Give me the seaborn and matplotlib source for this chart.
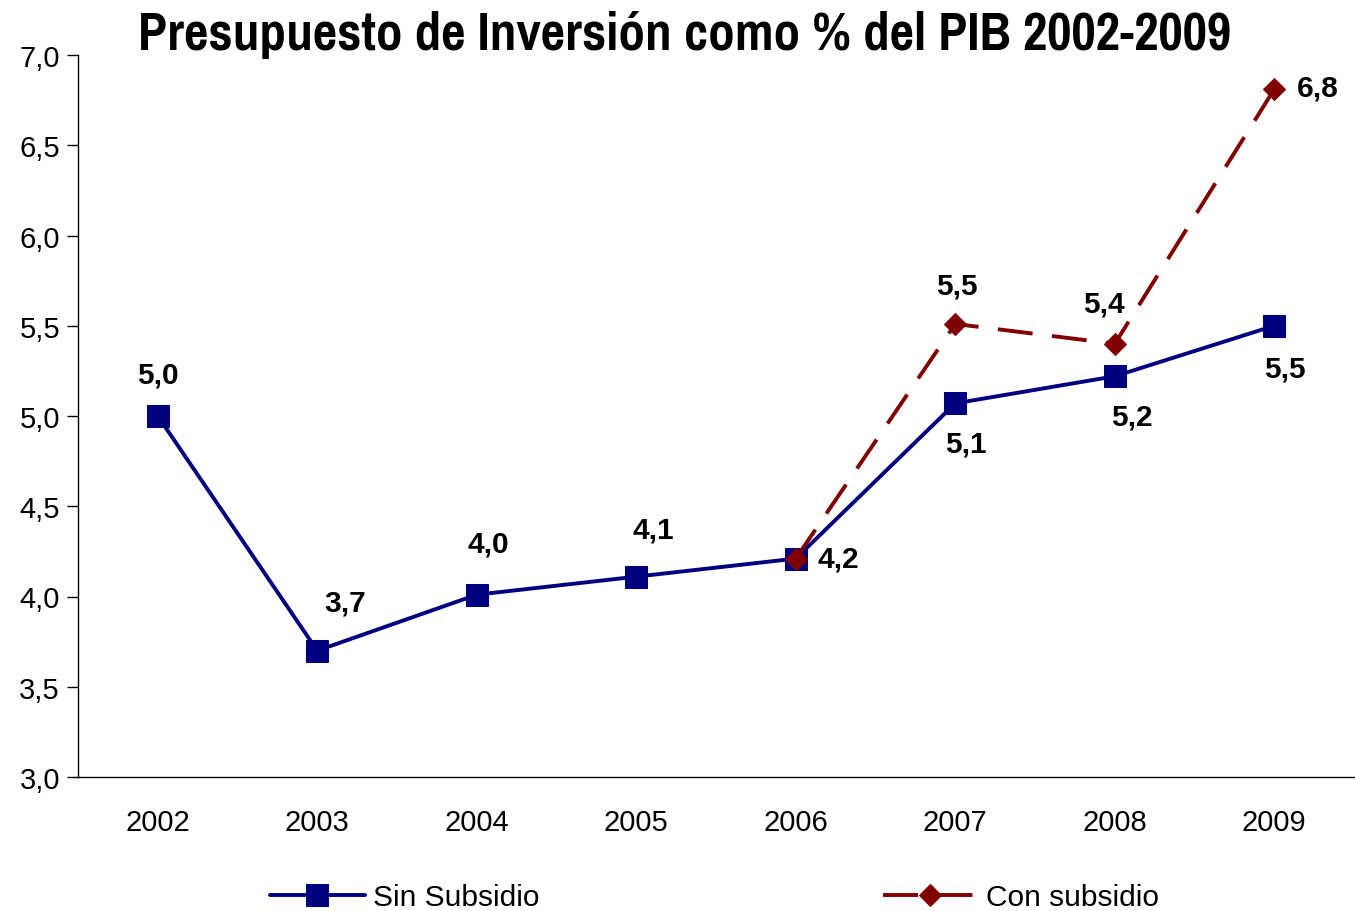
import numpy as np
import pandas as pd
import matplotlib
matplotlib.use("Agg")
import matplotlib.pyplot as plt
import seaborn as sns
from matplotlib import font_manager as fm
from matplotlib.ticker import FuncFormatter, FixedLocator

years = [2002, 2003, 2004, 2005, 2006, 2007, 2008, 2009]
sin_subsidio = [5.00, 3.70, 4.01, 4.11, 4.21, 5.07, 5.22, 5.50]
con_years = [2006, 2007, 2008, 2009]
con_subsidio = [4.21, 5.51, 5.40, 6.81]
sin_labels = ["5,0", "3,7", "4,0", "4,1", "4,2", "5,1", "5,2", "5,5"]
con_labels = [None, "5,5", "5,4", "6,8"]
title = "Presupuesto de Inversión como % del PIB 2002-2009"

sns.set_theme(style="white")
names = {f.name for f in fm.fontManager.ttflist}
base = "Liberation Sans" if "Liberation Sans" in names else "DejaVu Sans"
narrow = base
for cand in ["Liberation Sans Narrow", "Arial Narrow", "Pragati Narrow",
             "Archivo Narrow", "PT Sans Narrow", "Roboto Condensed",
             "Open Sans Condensed", "Fira Sans Condensed", "IBM Plex Sans Condensed"]:
    if cand in names:
        narrow = cand
        break
plt.rcParams["font.family"] = [base, "DejaVu Sans"]
plt.rcParams["text.color"] = "black"
plt.rcParams["xtick.color"] = "black"
plt.rcParams["ytick.color"] = "black"
plt.rcParams["axes.labelcolor"] = "black"

df_sin = pd.DataFrame({"year": years, "value": sin_subsidio})
df_con = pd.DataFrame({"year": con_years, "value": con_subsidio})

fig = plt.figure(figsize=(13.55, 9.12), dpi=100)
ax = fig.add_axes([78/1355, 1-778/912, 1-79/1355, (778-56)/912])

navy = "#000080"
dred = "#800000"
sns.lineplot(data=df_sin, x="year", y="value", ax=ax, color=navy, lw=2.8,
             marker="s", markersize=15.5, markeredgecolor=navy,
             markerfacecolor=navy, label="Sin Subsidio")
sns.lineplot(data=df_con, x="year", y="value", ax=ax, color=dred, lw=2.8,
             marker="D", markersize=11, markeredgecolor=dred,
             markerfacecolor=dred, dashes=False, label="Con subsidio")
ax.lines[1].set_dashes((9, 5))

ax.set_xlim(2001.5, 2009.5)
ax.set_ylim(3.0, 7.0)
ax.set_yticks(np.arange(3.0, 7.01, 0.5))
ax.yaxis.set_major_formatter(FuncFormatter(lambda v, p: f"{v:.1f}".replace(".", ",")))
ax.set_xticks(years)
ax.set_xticklabels([str(y) for y in years])
ax.xaxis.set_minor_locator(FixedLocator(np.arange(2001.5, 2009.6, 1.0)))
ax.tick_params(axis="x", which="major", length=0, pad=22, labelsize=21)
ax.tick_params(axis="x", which="minor", length=8, width=1, color="black", direction="out")
ax.tick_params(axis="y", which="major", length=8, width=1, color="black",
               direction="out", labelsize=21, pad=5, left=True)
ax.set_xlabel("")
ax.set_ylabel("")
for s in ["top", "right"]:
    ax.spines[s].set_visible(False)
for s in ["left", "bottom"]:
    ax.spines[s].set_color("black")
    ax.spines[s].set_linewidth(1)
ax.grid(False)

lab_fs = 21.5
sin_off = [(0, 30), (20, 35), (8, 37), (12, 34), (31, 0), (8, -29), (12, -29), (8, -31)]
for x, y, t, o in zip(years, sin_subsidio, sin_labels, sin_off):
    ax.annotate(t, (x, y), xytext=o, textcoords="offset points", ha="center",
                va="center", fontsize=lab_fs, fontweight="bold", color="black")
con_off = [None, (1, 28), (-8, 29), (31, 1)]
for x, y, t, o in zip(con_years, con_subsidio, con_labels, con_off):
    if t is None:
        continue
    ax.annotate(t, (x, y), xytext=o, textcoords="offset points", ha="center",
                va="center", fontsize=lab_fs, fontweight="bold", color="black")

ttl = fig.text(685/1355, 1-35/912, title, ha="center", va="center", fontsize=38,
               fontweight="bold", family=[narrow, base, "DejaVu Sans"], color="black")
fig.canvas.draw()
w = ttl.get_window_extent().width
fs = min(38 * 1094 / w, 44)
ttl.set_fontsize(fs)

ax.get_legend().remove()
h, l = ax.get_legend_handles_labels()
fig.legend(h, l, loc="center", bbox_to_anchor=(0.527, 1-898/912), ncol=2,
           frameon=False, fontsize=21.5, columnspacing=11.5, handlelength=3.2,
           handletextpad=0.25)

fig.savefig("out.png", dpi=100)
